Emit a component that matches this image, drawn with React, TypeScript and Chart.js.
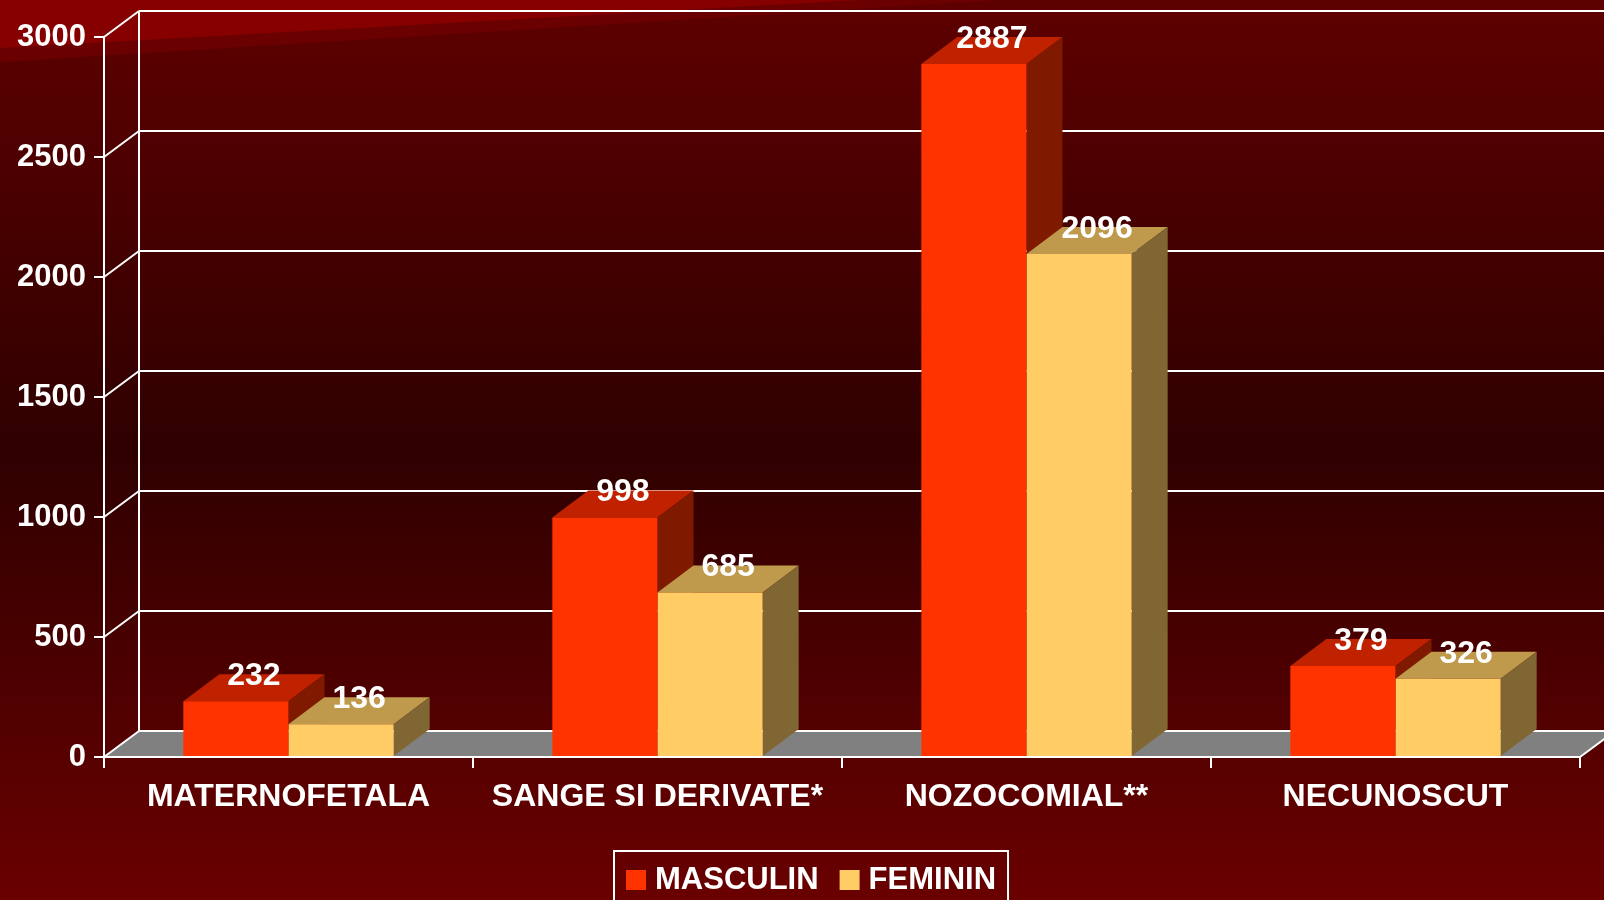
import React, { useEffect, useRef } from 'react';
import { Chart, registerables } from 'chart.js';

Chart.register(...registerables);

const categories = ['MATERNOFETALA', 'SANGE SI DERIVATE*', 'NOZOCOMIAL**', 'NECUNOSCUT'];
const masculin = [232, 998, 2887, 379];
const feminin = [136, 685, 2096, 326];
const seriesNames = ['MASCULIN', 'FEMININ'];
const yMin = 0;
const yMax = 3000;
const yStep = 500;

const FONT = '"Liberation Sans", Arial, Helvetica, sans-serif';
const WALL_DX = 35;
const WALL_DY = -26;
const BAR_DX = 36;
const BAR_DY = -27;
const faces = [
  { front: '#FF3300', top: '#C02200', side: '#7F1A00' },
  { front: '#FFCC66', top: '#BF9A4C', side: '#806633' },
];

function poly(ctx: CanvasRenderingContext2D, pts: number[][], fill: string) {
  ctx.beginPath();
  ctx.moveTo(pts[0][0], pts[0][1]);
  for (let i = 1; i < pts.length; i++) ctx.lineTo(pts[i][0], pts[i][1]);
  ctx.closePath();
  ctx.fillStyle = fill;
  ctx.fill();
}

function line(ctx: CanvasRenderingContext2D, x1: number, y1: number, x2: number, y2: number) {
  ctx.beginPath();
  ctx.moveTo(x1, y1);
  ctx.lineTo(x2, y2);
  ctx.stroke();
}

const scenePlugin = {
  id: 'scene3d',
  beforeDraw(chart: any) {
    const ctx: CanvasRenderingContext2D = chart.ctx;
    const W = chart.width;
    const H = chart.height;
    const area = chart.chartArea;
    const ys = chart.scales.y;
    ctx.save();
    const g = ctx.createLinearGradient(0, 0, 0, H);
    g.addColorStop(0, '#5e0000');
    g.addColorStop(0.5, '#2f0000');
    g.addColorStop(1, '#6a0000');
    ctx.fillStyle = g;
    ctx.fillRect(0, 0, W, H);
    poly(ctx, [[0, 0], [0, 62], [1000, 0]], '#6a0000');
    poly(ctx, [[0, 0], [0, 48], [860, 0]], '#870000');

    const y0 = ys.getPixelForValue(yMin);
    const L = area.left;
    const R = area.right;
    poly(ctx, [[L, y0], [L + WALL_DX, y0 + WALL_DY], [R + WALL_DX, y0 + WALL_DY], [R, y0]], '#808080');

    ctx.strokeStyle = '#ffffff';
    ctx.lineWidth = 2;
    for (let v = yMin; v <= yMax; v += yStep) {
      const yp = ys.getPixelForValue(v);
      line(ctx, L + WALL_DX, yp + WALL_DY, Math.max(W, R + WALL_DX), yp + WALL_DY);
      line(ctx, L, yp, L + WALL_DX, yp + WALL_DY);
    }
    line(ctx, L + WALL_DX, ys.getPixelForValue(yMax) + WALL_DY, L + WALL_DX, y0 + WALL_DY);
    line(ctx, R, y0, R + WALL_DX, y0 + WALL_DY);
    ctx.restore();
  },
  beforeDatasetsDraw(chart: any) {
    const ctx: CanvasRenderingContext2D = chart.ctx;
    ctx.save();
    const n = chart.data.labels.length;
    for (let i = 0; i < n; i++) {
      for (let d = 0; d < chart.data.datasets.length; d++) {
        const el = chart.getDatasetMeta(d).data[i];
        const p = el.getProps(['x', 'y', 'base', 'width'], true);
        const x1 = p.x - p.width / 2;
        const x2 = p.x + p.width / 2;
        const c = faces[d];
        poly(ctx, [[x1, p.y], [x1 + BAR_DX, p.y + BAR_DY], [x2 + BAR_DX, p.y + BAR_DY], [x2, p.y]], c.top);
        poly(ctx, [[x2, p.y], [x2 + BAR_DX, p.y + BAR_DY], [x2 + BAR_DX, p.base + BAR_DY], [x2, p.base]], c.side);
      }
    }
    ctx.restore();
  },
  afterDatasetsDraw(chart: any) {
    const ctx: CanvasRenderingContext2D = chart.ctx;
    ctx.save();
    ctx.fillStyle = '#ffffff';
    ctx.font = `bold 32px ${FONT}`;
    ctx.textAlign = 'center';
    ctx.textBaseline = 'middle';
    chart.data.datasets.forEach((ds: any, d: number) => {
      chart.getDatasetMeta(d).data.forEach((el: any, i: number) => {
        const p = el.getProps(['x', 'y'], true);
        ctx.fillText(String(ds.data[i]), p.x + BAR_DX / 2, p.y + BAR_DY + 2);
      });
    });
    ctx.restore();
  },
  afterDraw(chart: any) {
    const ctx: CanvasRenderingContext2D = chart.ctx;
    ctx.save();
    ctx.font = `bold 31px ${FONT}`;
    const sq = 20;
    const gapSq = 9;
    const gapItem = 21;
    const pad = 12;
    const widths = chart.data.datasets.map((ds: any) => ctx.measureText(ds.label).width);
    let total = pad * 2 - gapItem;
    widths.forEach((w: number) => { total += sq + gapSq + w + gapItem; });
    const cx = chart.width / 2 + 9;
    const left = Math.round(cx - total / 2);
    const top = 851;
    ctx.strokeStyle = '#ffffff';
    ctx.lineWidth = 2;
    ctx.strokeRect(left, top, total, 80);
    let x = left + pad;
    const cy = 880;
    ctx.textBaseline = 'middle';
    ctx.textAlign = 'left';
    chart.data.datasets.forEach((ds: any, d: number) => {
      ctx.fillStyle = faces[d].front;
      ctx.fillRect(x, cy - sq / 2, sq, sq);
      x += sq + gapSq;
      ctx.fillStyle = '#ffffff';
      ctx.fillText(ds.label, x, cy);
      x += widths[d] + gapItem;
    });
    ctx.restore();
  },
};

export default function App() {
  const ref = useRef<HTMLCanvasElement | null>(null);
  useEffect(() => {
    if (!ref.current) return;
    const chart = new Chart(ref.current, {
      type: 'bar',
      data: {
        labels: categories,
        datasets: [
          { label: seriesNames[0], data: masculin, backgroundColor: faces[0].front, borderWidth: 0 },
          { label: seriesNames[1], data: feminin, backgroundColor: faces[1].front, borderWidth: 0 },
        ],
      },
      options: {
        responsive: false,
        animation: false,
        events: [],
        datasets: { bar: { categoryPercentage: 0.57, barPercentage: 1.0 } },
        layout: { padding: { left: 0, right: 24, top: 37, bottom: 83 } },
        plugins: { legend: { display: false }, tooltip: { enabled: false } },
        scales: {
          x: {
            grid: { offset: true, drawOnChartArea: false, drawTicks: true, tickLength: 11, color: '#ffffff', lineWidth: 2 },
            border: { display: true, color: '#ffffff', width: 2 },
            ticks: { color: '#ffffff', font: { family: FONT, size: 32, weight: 'bold' }, padding: 10, maxRotation: 0, autoSkip: false },
            afterFit: (s: any) => { s.height = 60; },
          },
          y: {
            min: yMin,
            max: yMax,
            grid: { drawOnChartArea: false, drawTicks: true, tickLength: 10, color: '#ffffff', lineWidth: 2 },
            border: { display: true, color: '#ffffff', width: 2 },
            ticks: {
              stepSize: yStep,
              color: '#ffffff',
              font: { family: FONT, size: 31, weight: 'bold' },
              padding: 8,
              callback: (v: any) => String(v),
            },
            afterFit: (s: any) => { s.width = 104; },
          },
        },
      } as any,
      plugins: [scenePlugin],
    });
    return () => chart.destroy();
  }, []);
  return (
    <div style={{ position: 'fixed', left: 0, top: 0, width: 1604, height: 900, overflow: 'hidden' }}>
      <canvas ref={ref} width={1604} height={900} style={{ display: 'block' }} />
    </div>
  );
}
